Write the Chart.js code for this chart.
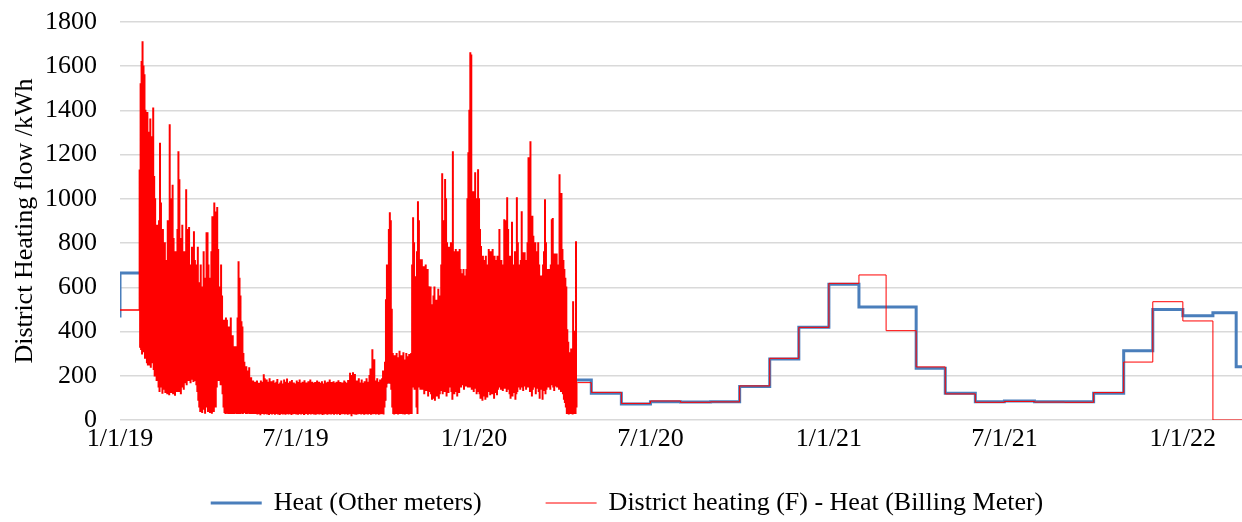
<!DOCTYPE html>
<html>
<head>
<meta charset="utf-8">
<script src="https://cdn.jsdelivr.net/npm/chart.js@4/dist/chart.umd.min.js"></script>
<style>
  html, body { margin: 0; padding: 0; background: #fff; }
</style>
</head>
<body>
<canvas id="myChart" width="1242" height="522"></canvas>
<script>
// x axis ticks (days counted from 1/1/19)
const tickDates = ['2019-01-01', '2019-07-01', '2020-01-01', '2020-07-01', '2021-01-01', '2021-07-01', '2022-01-01'];
const tickLabels = ['1/1/19', '7/1/19', '1/1/20', '7/1/20', '1/1/21', '7/1/21', '1/1/22'];

// Heat (Other meters): monthly totals, each held until the next date
const heatDates = ['2018-12-01', '2019-01-01', '2019-02-01', '2019-03-01', '2019-04-01', '2019-05-01',
  '2019-06-01', '2019-07-01', '2019-08-01', '2019-09-01', '2019-10-01', '2019-11-01', '2019-12-01',
  '2020-01-01', '2020-02-01', '2020-03-01', '2020-04-01', '2020-05-01', '2020-06-01', '2020-07-01',
  '2020-08-01', '2020-09-01', '2020-10-01', '2020-11-01', '2020-12-01', '2021-01-01', '2021-02-01',
  '2021-03-01', '2021-04-01', '2021-05-01', '2021-06-01', '2021-07-01', '2021-08-01', '2021-09-01',
  '2021-10-01', '2021-11-01', '2021-12-01', '2022-01-01', '2022-02-01', '2022-02-25', '2022-03-10'];
const heatValues = [470, 665, 520, 362, 217, 136,
  90, 85, 85, 95, 172, 330, 350,
  355, 360, 330, 181, 121, 72, 83,
  81, 82, 151, 276, 419, 614, 511,
  511, 234, 121, 83, 86, 83, 82,
  121, 313, 500, 472, 485, 241, 241];

// Billing meter: opening value, then daily high / low readings from 21 Jan 2019
const billingStartValue = 497;
const billingDailyStart = '2019-01-21';
const billingDailyHigh = [
  1130, 1520, 1620, 1710, 1600, 1560, 1400, 1300, 1390, 1250,
  1300, 1360, 1250, 1280, 1410, 1100, 1000, 870, 880, 760,
  900, 1250, 980, 780, 860, 650, 800, 720, 690, 900,
  760, 1334, 1000, 700, 1060, 820, 700, 760, 640, 860,
  1212, 1085, 820, 700, 880, 640, 760, 700, 1040, 860,
  830, 870, 700, 640, 780, 600, 850, 720, 560, 700,
  780, 620, 540, 700, 480, 600, 760, 520, 640, 846,
  846, 700, 560, 640, 760, 918, 600, 980, 940, 700,
  960, 770, 600, 480, 700, 560, 400, 450, 380, 460,
  450, 300, 420, 350, 460, 320, 380, 300, 330, 280,
  330, 460, 715, 640, 560, 443, 420, 300, 260, 235,
  240, 220, 200, 235, 180, 190, 160, 175, 150, 170,
  160, 175, 150, 165, 160, 175, 150, 170, 204, 185,
  165, 180, 155, 170, 185, 160, 172, 150, 176, 165,
  155, 170, 182, 160, 145, 166, 175, 152, 162, 180,
  170, 156, 184, 165, 150, 172, 160, 178, 155, 166,
  162, 152, 175, 168, 156, 180, 165, 150, 170, 160,
  176, 155, 166, 162, 172, 145, 180, 158, 170, 165,
  152, 168, 160, 175, 156, 170, 165, 150, 172, 162,
  158, 175, 166, 152, 170, 162, 180, 155, 168, 160,
  172, 156, 165, 170, 155, 176, 162, 168, 150, 166,
  160, 175, 170, 155, 165, 178, 156, 210, 172, 200,
  212, 170, 205, 162, 175, 155, 185, 166, 160, 180,
  165, 155, 172, 162, 185, 170, 160, 200, 230, 180,
  317, 195, 271, 175, 160, 185, 170, 165, 180, 175,
  185, 220, 200, 260, 543, 700, 600, 860, 936, 900,
  500, 300, 250, 290, 180, 300, 240, 280, 310, 260,
  290, 240, 303, 270, 230, 300, 285, 250, 295, 280,
  300, 700, 914, 800, 647, 500, 760, 986, 900, 724,
  690, 724, 600, 692, 640, 700, 560, 680, 602, 580,
  600, 520, 470, 560, 600, 450, 540, 500, 590, 480,
  560, 700, 1113, 900, 860, 1086, 1000, 800, 755, 780,
  720, 800, 700, 1212, 760, 700, 770, 640, 760, 740,
  770, 680, 600, 660, 680, 560, 650, 680, 1000, 1207,
  1400, 1660, 1650, 1031, 900, 1031, 1117, 1000, 940, 1131,
  1000, 860, 783, 700, 740, 600, 720, 740, 680, 700,
  770, 700, 760, 650, 770, 700, 740, 620, 720, 740,
  700, 860, 640, 720, 600, 700, 905, 800, 900, 1004,
  860, 740, 700, 740, 893, 700, 600, 760, 680, 1004,
  800, 700, 650, 720, 941, 755, 700, 755, 640, 720,
  800, 1185, 1000, 1257, 900, 920, 830, 760, 800, 700,
  760, 800, 700, 600, 650, 560, 700, 760, 995, 800,
  680, 640, 680, 600, 700, 905, 910, 700, 750, 720,
  750, 640, 700, 1108, 900, 1023, 770, 720, 680, 640,
  600, 407, 350, 303, 280, 320, 250, 534, 400, 300, 805, 170
];
const billingDailyLow = [
  330, 320, 300, 330, 310, 280, 300, 260, 250, 270,
  250, 240, 260, 270, 230, 200, 240, 180, 200, 150,
  130, 180, 150, 122, 160, 140, 125, 170, 120, 130,
  115, 140, 125, 160, 120, 135, 113, 150, 130, 140,
  130, 160, 120, 150, 180, 140, 170, 180, 160, 190,
  180, 200, 170, 185, 210, 175, 190, 180, 160, 130,
  90, 60, 40, 80, 35, 70, 50, 32, 90, 60,
  40, 80, 35, 60, 32, 70, 40, 100, 60, 150,
  195, 180, 200, 160, 190, 120, 60, 35, 30, 45,
  32, 30, 50, 30, 40, 30, 35, 30, 60, 32,
  30, 40, 30, 30, 45, 32, 30, 35, 50, 30,
  30, 40, 32, 30, 35, 30, 40, 30, 32, 30,
  30, 28, 35, 30, 25, 32, 30, 40, 28, 30,
  32, 28, 30, 26, 35, 30, 28, 30, 34, 27,
  30, 33, 28, 30, 26, 31, 35, 28, 30, 29,
  27, 30, 32, 28, 30, 34, 26, 30, 29, 31,
  30, 28, 33, 27, 30, 31, 28, 35, 30, 26,
  29, 32, 30, 27, 34, 30, 28, 31, 30, 28,
  33, 27, 30, 29, 31, 28, 30, 34, 26, 30,
  28, 31, 30, 27, 33, 29, 30, 28, 32, 30,
  27, 30, 34, 28, 30, 31, 26, 30, 29, 33,
  30, 28, 31, 30, 27, 32, 29, 30, 20, 30,
  30, 28, 32, 27, 30, 29, 31, 30, 28, 30,
  30, 27, 31, 29, 30, 28, 33, 30, 27, 30,
  29, 31, 30, 28, 30, 32, 27, 30, 29, 30,
  30, 28, 60, 90, 150, 167, 180, 170, 167, 140,
  60, 30, 28, 30, 32, 30, 28, 30, 31, 30,
  30, 29, 31, 28, 30, 32, 30, 28, 30, 30,
  30, 150, 160, 140, 150, 60, 30, 150, 167, 140,
  160, 140, 167, 120, 150, 135, 160, 110, 145, 130,
  120, 95, 130, 100, 90, 125, 110, 140, 100, 120,
  135, 150, 120, 160, 130, 140, 110, 145, 125, 150,
  160, 130, 95, 140, 120, 155, 130, 110, 150, 125,
  170, 150, 180, 160, 140, 175, 155, 165, 150, 170,
  150, 160, 140, 155, 130, 150, 145, 120, 140, 130,
  120, 100, 140, 90, 130, 110, 95, 125, 105, 140,
  130, 115, 140, 120, 135, 100, 130, 125, 115, 140,
  150, 160, 140, 165, 135, 155, 145, 160, 130, 150,
  140, 120, 100, 135, 110, 125, 140, 95, 120, 130,
  150, 160, 140, 165, 150, 135, 155, 160, 140, 150,
  170, 150, 130, 160, 110, 140, 165, 150, 120, 145,
  160, 130, 100, 150, 140, 95, 135, 160, 120, 140,
  170, 150, 165, 140, 160, 175, 150, 135, 160, 155,
  150, 165, 140, 160, 130, 150, 120, 95, 80, 60,
  30, 40, 28, 30, 60, 30, 28, 90, 30, 30, 60, 170
];
// Billing meter after the daily log stops: monthly totals
const billingMonthDates = ['2020-04-17', '2020-05-01', '2020-06-01', '2020-07-01', '2020-08-01', '2020-09-01',
  '2020-10-01', '2020-11-01', '2020-12-01', '2021-01-01', '2021-02-01', '2021-03-01', '2021-04-01',
  '2021-05-01', '2021-06-01', '2021-07-01', '2021-08-01', '2021-09-01', '2021-10-01', '2021-11-01',
  '2021-12-01', '2022-01-01', '2022-02-01', '2022-03-10'];
const billingMonthValues = [169, 125, 75, 86, 80, 82,
  154, 279, 419, 618, 656, 404, 240,
  118, 80, 84, 81, 80, 124, 262,
  535, 448, 0, 0];

const yTicks = { min: 0, max: 1800, step: 200 };
const xEndDate = '2022-03-03';

function dayIndex(s) {
  const p = s.split('-').map(Number);
  return (Date.UTC(p[0], p[1] - 1, p[2]) - Date.UTC(2019, 0, 1)) / 86400000;
}

const tickDays = tickDates.map(dayIndex);

const heatPoints = heatDates.map((s, i) => ({ x: dayIndex(s), y: heatValues[i] }));

const dailyStart = dayIndex(billingDailyStart);
const dailyEnd = dailyStart + billingDailyHigh.length;
const billingPoints = [{ x: 0, y: billingStartValue }];
billingDailyHigh.forEach((hi, i) => {
  billingPoints.push({ x: dailyStart + i, y: hi });
  billingPoints.push({ x: dailyStart + i + 0.5, y: billingDailyLow[i] });
});
billingMonthDates.forEach((s, i) => billingPoints.push({ x: dayIndex(s), y: billingMonthValues[i] }));

Chart.defaults.font.family = '"Liberation Serif", "Times New Roman", serif';
Chart.defaults.font.size = 26;
Chart.defaults.color = '#000';

// legend row under the plot: line sample + label for each series
const bottomLegend = {
  id: 'bottomLegend',
  afterDraw(chart, args, opts) {
    const c = chart.ctx;
    c.save();
    c.font = opts.font;
    c.textBaseline = 'middle';
    c.textAlign = 'left';
    c.fillStyle = '#000';
    const items = chart.data.datasets.map(ds => ({
      ds,
      w: opts.sample + opts.textGap + c.measureText(ds.label).width
    }));
    const total = items.reduce((s, it) => s + it.w, 0) + opts.itemGap * (items.length - 1);
    let x = opts.centerX - total / 2;
    items.forEach(it => {
      c.strokeStyle = it.ds.borderColor;
      c.lineWidth = it.ds.borderWidth;
      c.beginPath();
      c.moveTo(x, opts.y);
      c.lineTo(x + opts.sample, opts.y);
      c.stroke();
      c.fillText(it.ds.label, x + opts.sample + opts.textGap, opts.y);
      x += it.w + opts.itemGap;
    });
    c.restore();
  }
};

const ctx = document.getElementById('myChart').getContext('2d');
new Chart(ctx, {
  type: 'line',
  data: {
    datasets: [
      {
        label: 'Heat (Other meters)',
        data: heatPoints,
        borderColor: '#4a7ebb',
        borderWidth: 3,
        stepped: true,
        pointRadius: 0,
        order: 2
      },
      {
        label: 'District heating (F) - Heat (Billing Meter)',
        data: billingPoints,
        borderColor: '#ff0000',
        borderWidth: 1,
        stepped: true,
        pointRadius: 0,
        order: 1,
        segment: {
          borderWidth: c => (c.p1.parsed.x < dailyEnd ? 1.5 : 1)
        }
      }
    ]
  },
  options: {
    responsive: false,
    animation: false,
    events: [],
    layout: { padding: { left: 12, right: 0, top: 22, bottom: 62 } },
    scales: {
      x: {
        type: 'linear',
        min: 0,
        max: dayIndex(xEndDate),
        grid: { display: false, drawTicks: false },
        border: { display: false },
        afterBuildTicks: scale => { scale.ticks = tickDays.map(v => ({ value: v })); },
        afterFit: scale => { scale.height = 40; },
        ticks: {
          autoSkip: false,
          maxRotation: 0,
          padding: 4,
          callback: v => tickLabels[tickDays.indexOf(v)]
        }
      },
      y: {
        min: yTicks.min,
        max: yTicks.max,
        grid: { color: '#d9d9d9', lineWidth: 1.5, drawTicks: false },
        border: { display: false },
        afterFit: scale => {
          scale.width = 108;
          scale.paddingTop = 0;
          scale.paddingBottom = 0;
        },
        ticks: { stepSize: yTicks.step, padding: 23, callback: v => String(v) },
        title: {
          display: true,
          text: 'District Heating flow /kWh',
          font: { size: 26, lineHeight: 1 },
          padding: { top: 0, bottom: 0 }
        }
      }
    },
    plugins: {
      tooltip: { enabled: false },
      legend: { display: false },
      bottomLegend: {
        centerX: 627,
        y: 503,
        sample: 51,
        textGap: 12,
        itemGap: 64,
        font: '26px "Liberation Serif", "Times New Roman", serif'
      }
    }
  },
  plugins: [bottomLegend]
});
</script>
</body>
</html>
